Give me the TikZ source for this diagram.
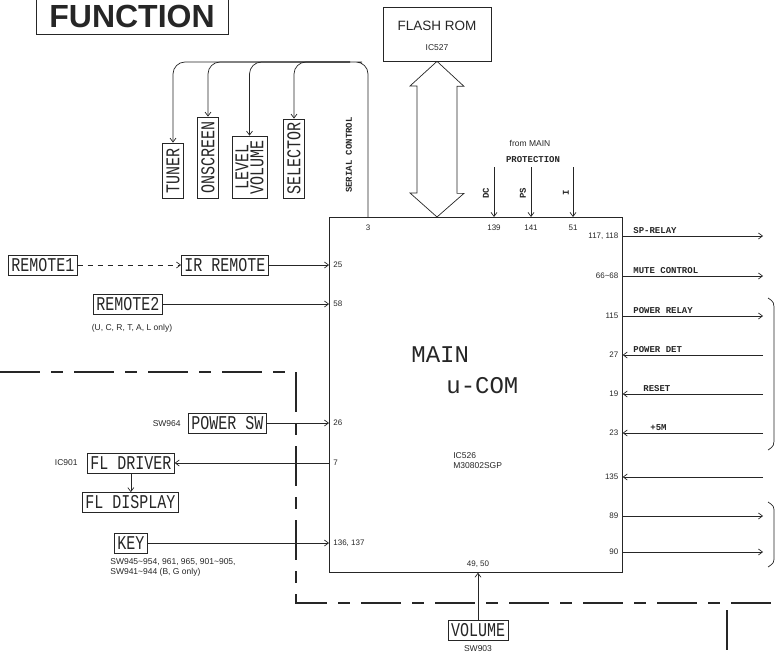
\documentclass[tikz,border=0pt]{standalone}
\usepackage{fontspec}
\setmainfont{Liberation Sans}
\setmonofont{Liberation Mono}
\usepackage{graphicx}
\usetikzlibrary{arrows.meta}
\newcommand\mt[1]{\scalebox{1}[1.3]{#1}}

\begin{document}
\begin{tikzpicture}[x=1pt,y=-1pt,color=black!85,line width=0.7pt,
	>={Straight Barb[length=4pt,width=6pt]},
	blk/.style={draw,font=\ttfamily\fontsize{15}{15}\selectfont,inner xsep=3pt,inner ysep=0pt,minimum height=20pt},
	vblk/.style={blk,rotate=90,minimum height=21pt},
	sig/.style={font=\ttfamily\bfseries\fontsize{9}{9}\selectfont,inner sep=1pt},
	pin/.style={font=\fontsize{8}{8}\selectfont,inner sep=1pt},
	note/.style={font=\fontsize{8.5}{10.5}\selectfont,inner sep=1pt},
	bound/.style={line width=2.8pt,dash pattern=on 40pt off 11pt on 12pt off 11pt}]
	\useasboundingbox (0,0) rectangle (776,658);
	% title
	\node[draw,font=\bfseries\fontsize{32}{32}\selectfont,minimum width=192pt,minimum height=36pt,inner sep=0pt] (title) at (132,16) {FUNCTION};
	% main micro
	\node[draw,minimum width=293pt,minimum height=355pt,inner sep=0pt,anchor=north west] (ucom) at (329,217) {};
	\node[font=\ttfamily\fontsize{24}{24}\selectfont,inner sep=0pt,anchor=west] (mainlbl) at (411,355) {MAIN};
	\node[font=\ttfamily\fontsize{24}{24}\selectfont,inner sep=0pt,anchor=west] (ucomlbl) at (446,386) {u-COM};
	\node[note,align=left,anchor=north west] (iclbl) at (452,451) {IC526\\M30802SGP};
	% flash rom
	\node[draw,minimum width=108pt,minimum height=54pt] (flash) at (437,34) {};
	\node[font=\fontsize{13.5}{13.5}\selectfont] (flashlbl) at (437,26) {FLASH ROM};
	\node[note] (flashic) at (437,48) {IC527};
	\draw (flash.south) -- ++(27,25) -- ++(-7,0) -- ++(0,107) -- ++(7,0) -- (flash.south |- ucom.north)
		-- ++(-27,-24) -- ++(7,0) -- ++(0,-107) -- ++(-7,0) -- cycle;
	% serial control
	\node[vblk,minimum width=55pt] (tuner) at (173,170.5) {\mt{TUNER}};
	\node[vblk,minimum width=81pt] (onscreen) at (208,157.5) {\mt{ONSCREEN}};
	\node[vblk,minimum width=62pt,minimum height=35pt,align=center] (level) at (249.5,167) {\mt{LEVEL}\\\mt{VOLUME}};
	\node[vblk,minimum width=79pt] (selector) at (294,158.5) {\mt{SELECTOR}};
	\coordinate (sc) at (368,217);
	\coordinate (bus) at (350,62);
	\draw[->,rounded corners=12pt] (sc) |- (bus) -| (tuner.east);
	\foreach \b in {onscreen,level,selector}
		\draw[->,rounded corners=12pt] (bus) -| (\b.east);
	\node[pin,below=7pt] at (sc) {3};
	\node[sig,rotate=90] at (349,155) {SERIAL CONTROL};
	% protection
	\node[note] at (530,143) {from MAIN};
	\node[sig] at (533,160) {PROTECTION};
	\foreach \n/\x/\p in {dc/494/139,ps/531/141,ii/573/51} {
		\coordinate (\n) at (\x,167);
		\draw[->] (\n) -- (\n |- ucom.north) node[pin,below=7pt] {\p};
	}
	\node[sig,rotate=90] at (486,193) {DC};
	\node[sig,rotate=90] at (523,193) {PS};
	\node[sig,rotate=90] at (566,193) {I};
	% left side
	\node[blk,anchor=west] (remote1) at (8,265) {\mt{REMOTE1}};
	\node[blk,anchor=west] (irremote) at (181,265) {\mt{IR REMOTE}};
	\node[blk,anchor=west] (remote2) at (93,304) {\mt{REMOTE2}};
	\node[note] at (132,328) {(U, C, R, T, A, L only)};
	\draw[->,dash pattern=on 5pt off 5pt] (remote1) -- (irremote);
	\draw[->] (irremote) -- (irremote -| ucom.west) node[pin,right=3pt] {25};
	\draw[->] (remote2) -- (remote2 -| ucom.west) node[pin,right=3pt] {58};
	\node[blk,anchor=west] (powersw) at (188,423) {\mt{POWER SW}};
	\node[note,anchor=east] at (182,424) {SW964};
	\draw[->] (powersw) -- (powersw -| ucom.west) node[pin,right=3pt] {26};
	\node[blk,anchor=west] (fldriver) at (87,463) {\mt{FL DRIVER}};
	\node[note,anchor=east] at (79,463) {IC901};
	\node[blk,anchor=west] (fldisplay) at (82,502.5) {\mt{FL DISPLAY}};
	\draw[->] (fldriver -| ucom.west) node[pin,right=3pt] {7} -- (fldriver);
	\draw[->] (fldriver) -- (fldriver |- fldisplay.north);
	\node[blk,anchor=west] (key) at (114,543) {\mt{KEY}};
	\node[note,align=left,anchor=north west] at (109,557) {SW945\textasciitilde954, 961, 965, 901\textasciitilde905,\\SW941\textasciitilde944 (B, G only)};
	\draw[->] (key) -- (key -| ucom.west) node[pin,right=3pt] {136, 137};
	% bottom
	\node[blk] (volume) at (478,630.5) {\mt{VOLUME}};
	\node[note,below=3pt] at (volume.south) {SW903};
	\draw[->] (volume) -- (volume |- ucom.south) node[pin,above=4pt] {49, 50};
	% right side
	\foreach \y/\p in {236/{117, 118},276/66\textasciitilde68,316/115,516/89,552/90} {
		\coordinate (o\y) at (763,\y);
		\draw[->] (o\y -| ucom.east) node[pin,left=3pt] {\p} -- (o\y);
	}
	\foreach \y/\p in {355/27,394/19,433/23,477/135} {
		\coordinate (i\y) at (763,\y);
		\draw[->] (i\y) -- (i\y -| ucom.east) node[pin,left=3pt] {\p};
	}
	\foreach \y/\x/\s in {236/632/SP-RELAY,276/632/MUTE CONTROL,316/632/POWER RELAY,355/632/POWER DET,394/642/RESET,433/649/+5M}
		\node[sig,anchor=south west] at (\x,\y-1) {\s};
	\draw (768,298) .. controls (774,302) .. (774,312) -- (774,436) .. controls (774,446) .. (768,450);
	\draw (768,502) .. controls (774,506) .. (774,514) -- (774,555) .. controls (774,563) .. (768,567);
	% boundary
	\draw[bound] (0,372) -| (296,603) -- (776,603);
	\draw[line width=2.8pt] (727,610) -- (727,650);
\end{tikzpicture}
\end{document}
